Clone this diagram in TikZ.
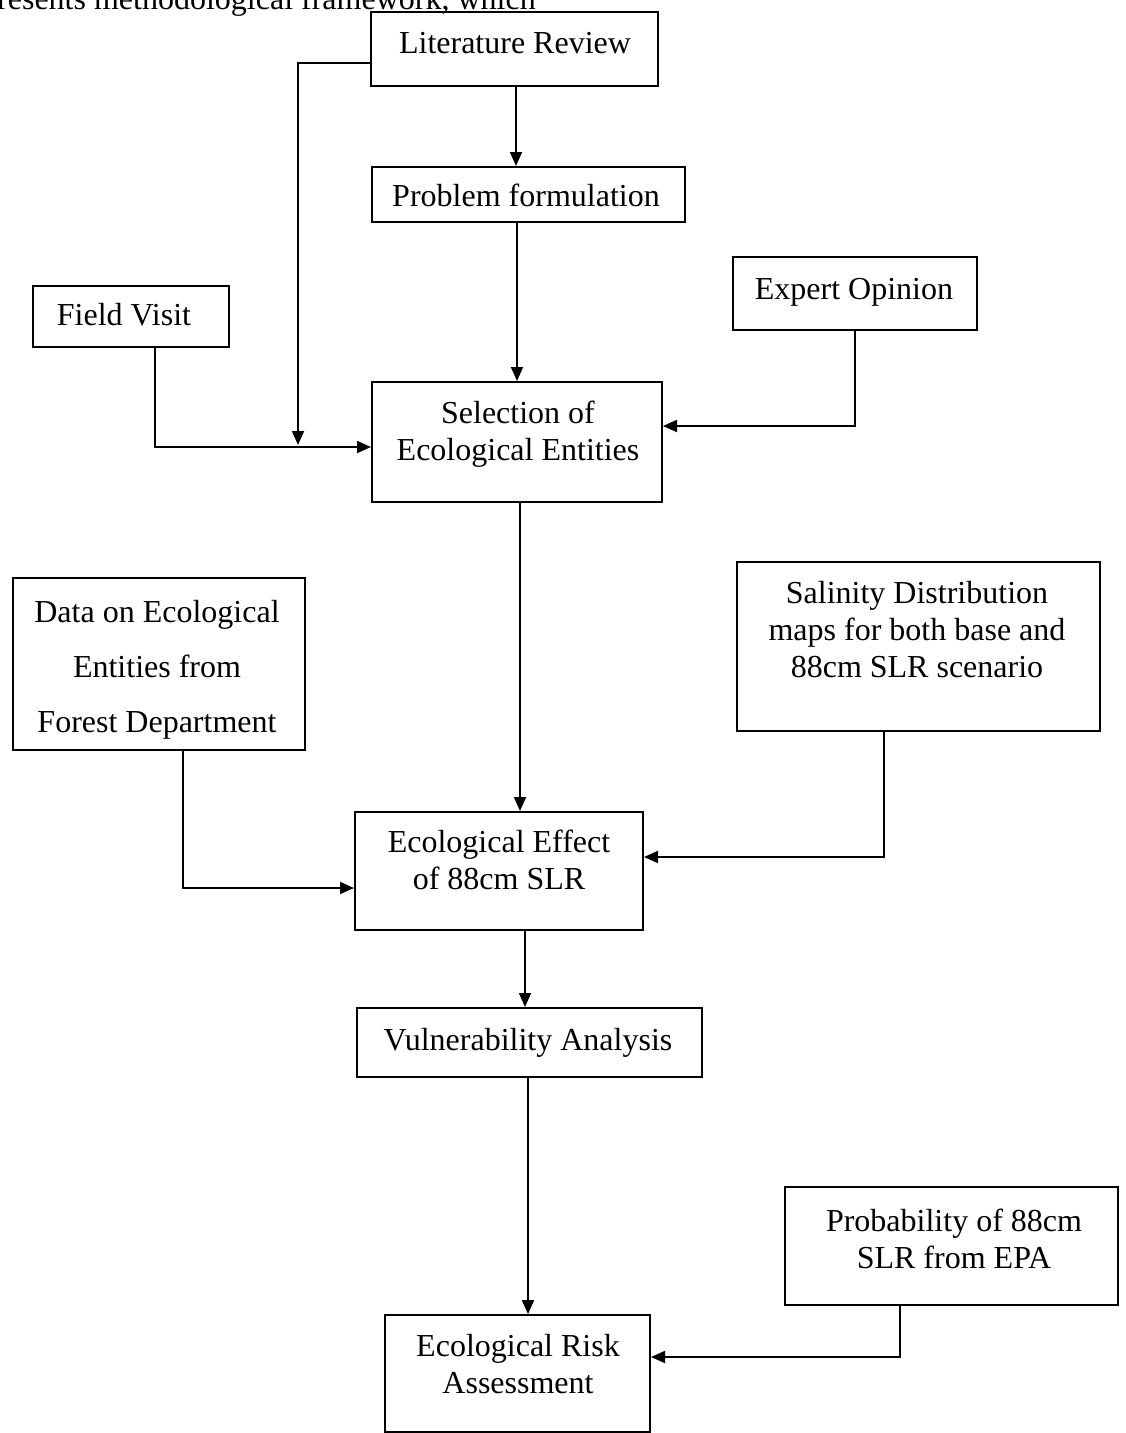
\documentclass[tikz,border=0pt]{standalone}
\usepackage{fontspec}
\setmainfont{Liberation Serif}
\usetikzlibrary{arrows.meta}

\tikzset{
  flowbox/.style={draw, line width=2pt, rectangle, inner sep=0pt},
  boxtext/.style={anchor=base, inner sep=0pt, font=\fontsize{32}{37}\selectfont, align=center},
  flowarrow/.style={line width=1.8pt, -{Triangle[length=14pt,width=12pt]}},
}

\begin{document}
\begin{tikzpicture}[x=1pt, y=-1pt]
  \useasboundingbox (0,0) rectangle (1125,1433);
  \fill[white] (0,0) rectangle (1125,1433);
  \clip (0,0) rectangle (1125,1433);

  % running text of the page, cut by the top margin
  \node[anchor=base west, inner sep=0pt, font=\fontsize{32}{37}\selectfont] (pagetext) at (-3,9)
    {resents methodological framework, which};

  % boxes
  \node[flowbox, minimum width=287pt, minimum height=74pt]  (lit)    at (514.5,49)    {};
  \node[flowbox, minimum width=313pt, minimum height=55pt]  (prob)   at (528.5,194.5) {};
  \node[flowbox, minimum width=196pt, minimum height=61pt]  (field)  at (131,316.5)   {};
  \node[flowbox, minimum width=244pt, minimum height=73pt]  (expert) at (855,293.5)   {};
  \node[flowbox, minimum width=290pt, minimum height=120pt] (sel)    at (517,442)     {};
  \node[flowbox, minimum width=292pt, minimum height=172pt] (data)   at (159,664)     {};
  \node[flowbox, minimum width=363pt, minimum height=169pt] (sal)    at (918.5,646.5) {};
  \node[flowbox, minimum width=288pt, minimum height=118pt] (eff)    at (499,871)     {};
  \node[flowbox, minimum width=345pt, minimum height=69pt]  (vul)    at (529.5,1042.5){};
  \node[flowbox, minimum width=333pt, minimum height=118pt] (epa)    at (951.5,1246)  {};
  \node[flowbox, minimum width=265pt, minimum height=117pt] (risk)   at (517.5,1373.5){};

  % box texts (placed at the baseline of their last line)
  \node[boxtext] (litT)    at (515,53)   {Literature Review};
  \node[boxtext] (probT)   at (526,206)  {Problem formulation};
  \node[boxtext] (fieldT)  at (124,325)  {Field Visit};
  \node[boxtext] (expertT) at (854,299)  {Expert Opinion};
  \node[boxtext] (selT)    at (518,460)  {Selection of\\Ecological Entities};
  \node[boxtext, font=\fontsize{32}{55}\selectfont] (dataT) at (157,732)
    {Data on Ecological\\Entities from\\Forest Department};
  \node[boxtext] (salT)    at (917,677)  {Salinity Distribution\\maps for both base and\\88cm SLR scenario};
  \node[boxtext] (effT)    at (499,889)  {Ecological Effect\\of 88cm SLR};
  \node[boxtext] (vulT)    at (528,1050) {Vulnerability Analysis};
  \node[boxtext] (epaT)    at (954,1268) {Probability of 88cm\\SLR from EPA};
  \node[boxtext] (riskT)   at (518,1393) {Ecological Risk\\Assessment};

  % connectors
  \draw[flowarrow] (lit.south -| 516,0) -- (prob.north -| 516,0);
  \draw[flowarrow] (lit.west |- 0,63) -| (298,445);
  \draw[flowarrow] (field.south -| 155,0) |- (sel.west |- 0,447);
  \draw[flowarrow] (prob.south -| 517,0) -- (sel.north -| 517,0);
  \draw[flowarrow] (expert.south -| 855,0) |- (sel.east |- 0,426);
  \draw[flowarrow] (sel.south -| 520,0) -- (eff.north -| 520,0);
  \draw[flowarrow] (data.south -| 183,0) |- (eff.west |- 0,888);
  \draw[flowarrow] (sal.south -| 884,0) |- (eff.east |- 0,857);
  \draw[flowarrow] (eff.south -| 525,0) -- (vul.north -| 525,0);
  \draw[flowarrow] (vul.south -| 528,0) -- (risk.north -| 528,0);
  \draw[flowarrow] (epa.south -| 900,0) |- (risk.east |- 0,1357);
\end{tikzpicture}
\end{document}
